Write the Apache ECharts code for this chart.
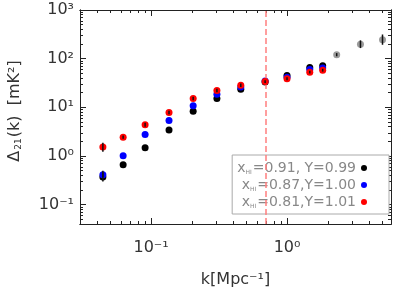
<!DOCTYPE html>
<html>
<head>
<meta charset="utf-8">
<script src="https://cdn.jsdelivr.net/npm/echarts@6/dist/echarts.min.js"></script>
<style>html,body{margin:0;padding:0;background:#fff}#c{width:399px;height:293px}</style>
</head>
<body>
<div id="c"></div>
<script>
// ---- data ----
var kVals = [0.0442, 0.0623, 0.0904, 0.1355, 0.204, 0.305, 0.457, 0.690, 1.0, 1.47, 1.83];
var blackVals = [0.37, 0.66, 1.47, 3.41, 8.35, 15.2, 23.4, 33.0, 45.2, 65.5, 71.7];
var blueVals  = [0.41, 1.01, 2.76, 5.34, 10.8, 18.6, 26.2, 34.6, 41.6, 60.2, 64.5];
var redVals   = [1.54, 2.44, 4.38, 7.83, 15.2, 22.3, 28.5, 33.8, 38.8, 52.9, 58.0];
var grayK     = [2.32, 3.47, 5.04];
var grayVals  = [121, 198, 246];
// error bars: [k, low, high]
var errorBars = [
  [0.0442, 1.22, 1.87], [0.0442, 0.30, 0.50], [0.0442, 0.37, 0.46],
  [0.0623, 2.25, 2.65], [0.0904, 4.0, 4.8], [0.1355, 7.2, 8.5],
  [0.204, 14.0, 16.5], [0.305, 20.5, 24.2], [0.457, 26.3, 30.9],
  [0.690, 31.5, 36.2], [1.0, 36.2, 41.6], [1.47, 49.5, 56.5], [1.83, 54.2, 62.0],
  [2.32, 112, 130], [3.47, 165, 238], [5.04, 193, 314]
];
var seriesNames = ['x_HI=0.91, Y=0.99', 'x_HI=0.87,Y=1.00', 'x_HI=0.81,Y=1.01'];
var majorX = [0.1, 1];
var majorY = [0.1, 1, 10, 100, 1000];
var xMin = 0.030, xMax = 5.82, yMin = 0.0401, yMax = 1000;
var vlineK = 0.7;
var xTitle = 'k[Mpc\u207B\u00B9]';
var yTitle = '{a|\u0394}{s|21}{a|(k)  [mK\u00B2]}';

function minorList(lo, hi) {
  var out = [];
  for (var e = -3; e <= 3; e++) {
    for (var m = 2; m <= 9; m++) {
      var v = m * Math.pow(10, e);
      if (v >= lo && v <= hi) out.push(v);
    }
  }
  return out;
}
var minorX = minorList(xMin, xMax);
var minorY = minorList(yMin, yMax);

var supMap = {'-': '\u207B', '0': '\u2070', '1': '\u00B9', '2': '\u00B2', '3': '\u00B3'};
function fmtPow(v) {
  var e = String(Math.round(Math.log10(v)));
  var s = '';
  for (var i = 0; i < e.length; i++) s += supMap[e[i]];
  return '10' + s;
}

var FONT = 'DejaVu Sans';
var axisCol = '#222';

function mkAxis(kind, pos, major, ticks, len, labels, extra) {
  var a = {
    type: 'log', logBase: 10, position: pos,
    min: kind === 'x' ? xMin : yMin, max: kind === 'x' ? xMax : yMax,
    splitLine: {show: false},
    axisLine: {show: true, lineStyle: {color: axisCol, width: 1}},
    axisTick: {show: true, inside: true, length: len, customValues: ticks, lineStyle: {color: axisCol, width: 1}},
    axisLabel: labels ? {
      show: true, customValues: major, formatter: fmtPow,
      fontFamily: FONT, fontSize: 16, color: '#333', margin: kind === 'x' ? 16 : 6
    } : {show: false},
    minorTick: {show: false}
  };
  for (var k in extra) a[k] = extra[k];
  return a;
}

var xAxes = [
  mkAxis('x', 'bottom', majorX, majorX, 6, true, {
    name: xTitle, nameLocation: 'middle', nameGap: 48,
    nameTextStyle: {fontFamily: FONT, fontSize: 16, color: '#333'}
  }),
  mkAxis('x', 'bottom', majorX, minorX, 3, false, {}),
  mkAxis('x', 'top', majorX, majorX, 6, false, {}),
  mkAxis('x', 'top', majorX, minorX, 3, false, {})
];
var yAxes = [
  mkAxis('y', 'left', majorY, majorY, 6, true, {}),
  mkAxis('y', 'left', majorY, minorY, 3, false, {}),
  mkAxis('y', 'right', majorY, majorY, 6, false, {}),
  mkAxis('y', 'right', majorY, minorY, 3, false, {})
];

function pairs(xs, ys) { return xs.map(function (x, i) { return [x, ys[i]]; }); }

var option = {
  animation: false,
  backgroundColor: '#fff',
  grid: {left: 80, right: 8, top: 10, bottom: 64},
  xAxis: xAxes,
  yAxis: yAxes,
  graphic: [{
    type: 'text', x: 15, y: 111, rotation: Math.PI / 2,
    style: {
      text: yTitle, align: 'center', verticalAlign: 'middle',
      font: '16px "DejaVu Sans"', fill: '#333',
      rich: {
        a: {fontFamily: FONT, fontSize: 16, fill: '#333'},
        s: {fontFamily: FONT, fontSize: 9, fill: '#333', verticalAlign: 'bottom', padding: [0, 1, 0, 1]}
      }
    }
  }],
  legend: {
    show: true, orient: 'vertical', right: 10, top: 155, align: 'right',
    data: seriesNames, icon: 'circle', itemWidth: 6, itemHeight: 6, itemGap: 3,
    backgroundColor: '#fff', borderColor: '#aaa', borderWidth: 1, borderRadius: 0,
    padding: [6, 22, 5, 5],
    selectedMode: false,
    formatter: function (name) {
      var rest = name.replace('x_HI', '');
      return '{a|x}{s|HI}{a|' + rest + '}';
    },
    textStyle: {
      fontFamily: FONT, fontSize: 14, color: '#888',
      rich: {
        a: {fontFamily: FONT, fontSize: 14, color: '#888'},
        s: {fontFamily: FONT, fontSize: 6, color: '#888', verticalAlign: 'bottom', padding: [0, 1, 0, 0]}
      }
    }
  },
  series: [
    {
      type: 'scatter', name: 'vline', data: [], z: 1, silent: true,
      markLine: {
        symbol: 'none', silent: true, label: {show: false}, animation: false,
        lineStyle: {type: [6, 3], color: '#ff7f7f', width: 1.5},
        data: [{xAxis: vlineK}]
      }
    },
    {type: 'scatter', name: 'gray', data: pairs(grayK, grayVals), symbolSize: 7, itemStyle: {color: '#9a9a9a', opacity: 1}, z: 2},
    {type: 'scatter', name: seriesNames[0], data: pairs(kVals, blackVals), symbolSize: 7, itemStyle: {color: '#000', opacity: 1}, z: 3},
    {type: 'scatter', name: seriesNames[1], data: pairs(kVals, blueVals), symbolSize: 7, itemStyle: {color: '#0000ff', opacity: 1}, z: 4},
    {type: 'scatter', name: seriesNames[2], data: pairs(kVals, redVals), symbolSize: 7, itemStyle: {color: '#ff0000', opacity: 1}, z: 5},
    {
      type: 'custom', name: 'err', z: 6, silent: true,
      data: errorBars,
      encode: {x: 0, y: [1, 2]},
      renderItem: function (params, api) {
        var lo = api.coord([api.value(0), api.value(1)]);
        var hi = api.coord([api.value(0), api.value(2)]);
        return {
          type: 'line',
          shape: {x1: lo[0], y1: lo[1], x2: hi[0], y2: hi[1]},
          style: {stroke: '#111', lineWidth: 1.5}
        };
      }
    }
  ]
};

var chart = echarts.init(document.getElementById('c'), null, {renderer: 'canvas'});
chart.setOption(option);
</script>
</body>
</html>
